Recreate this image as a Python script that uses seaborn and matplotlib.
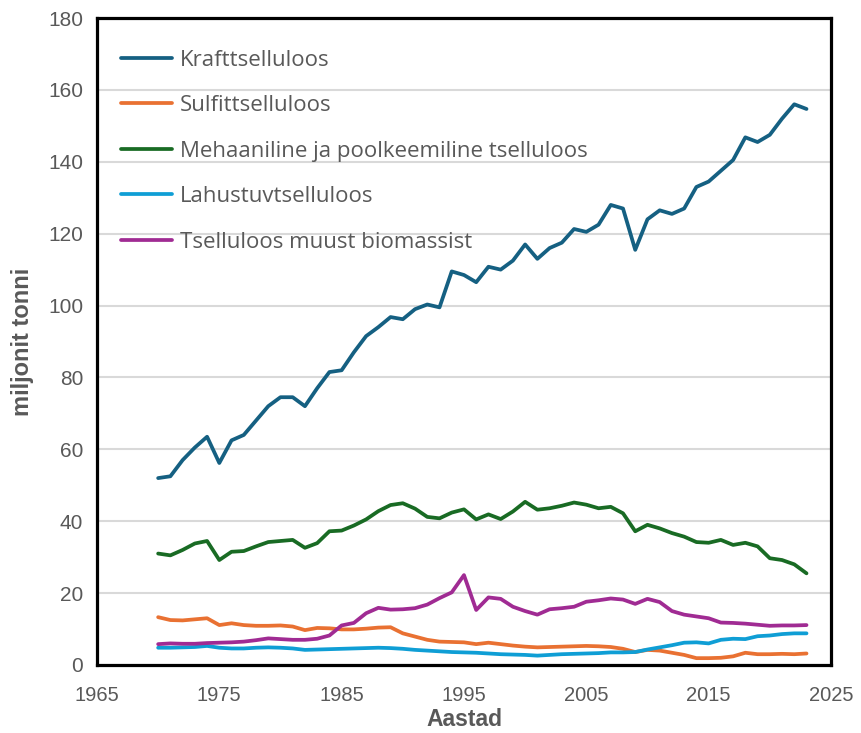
import matplotlib
matplotlib.use("Agg")
import matplotlib.pyplot as plt
import seaborn as sns
import pandas as pd

years = list(range(1970, 2024))

kraft = [52, 52.5, 57, 60.5, 63.5, 56.2, 62.5, 64, 68, 72,
         74.5, 74.5, 72, 77, 81.5, 82, 87, 91.5, 94, 96.8,
         96.2, 99, 100.3, 99.5, 109.5, 108.5, 106.5, 110.8, 110, 112.5,
         117, 113, 116, 117.5, 121.3, 120.5, 122.5, 128, 127, 115.5,
         124, 126.5, 125.5, 127, 133, 134.5, 137.5, 140.5, 146.8, 145.5,
         147.5, 152, 156, 154.7]

sulfit = [13.3, 12.5, 12.4, 12.7, 13, 11.1, 11.6, 11.1, 10.9, 10.9,
          11, 10.7, 9.7, 10.3, 10.2, 9.9, 9.9, 10.1, 10.4, 10.5,
          8.8, 7.9, 7.0, 6.5, 6.4, 6.3, 5.8, 6.2, 5.8, 5.4,
          5.1, 4.9, 5.0, 5.1, 5.2, 5.3, 5.2, 5.0, 4.5, 3.6,
          4.2, 4.0, 3.4, 2.8, 1.9, 1.9, 2.0, 2.4, 3.4, 3.0,
          3.0, 3.1, 3.0, 3.2]

mehaaniline = [31, 30.5, 32, 33.8, 34.5, 29.2, 31.5, 31.7, 33, 34.2,
               34.5, 34.8, 32.6, 33.9, 37.2, 37.4, 38.8, 40.5, 42.8, 44.5,
               45, 43.5, 41.2, 40.8, 42.4, 43.3, 40.5, 41.9, 40.6, 42.7,
               45.4, 43.2, 43.6, 44.3, 45.2, 44.6, 43.6, 44, 42.2, 37.2,
               39, 38, 36.7, 35.7, 34.2, 34, 34.8, 33.4, 34, 33,
               29.7, 29.2, 28, 25.5]

lahustuv = [4.8, 4.8, 4.9, 5.0, 5.3, 4.8, 4.6, 4.6, 4.8, 4.9,
            4.8, 4.6, 4.2, 4.3, 4.4, 4.5, 4.6, 4.7, 4.8, 4.7,
            4.5, 4.2, 4.0, 3.8, 3.6, 3.5, 3.4, 3.2, 3.0, 2.9,
            2.8, 2.6, 2.8, 3.0, 3.1, 3.2, 3.3, 3.5, 3.5, 3.6,
            4.3, 4.9, 5.5, 6.2, 6.3, 6.0, 7.0, 7.3, 7.2, 8.0,
            8.2, 8.6, 8.8, 8.8]

muust = [5.8, 6, 5.9, 5.9, 6.1, 6.2, 6.3, 6.5, 6.9, 7.4,
         7.2, 7.0, 7.0, 7.3, 8.2, 11.0, 11.7, 14.4, 15.9, 15.4,
         15.5, 15.8, 16.8, 18.6, 20.2, 25, 15.3, 18.8, 18.4, 16.2,
         15, 14, 15.5, 15.8, 16.2, 17.6, 18, 18.5, 18.2, 17,
         18.4, 17.5, 15, 14, 13.5, 13, 11.8, 11.7, 11.5, 11.2,
         10.9, 11, 11, 11.1]

series_names = ["Krafttselluloos", "Sulfittselluloos",
                "Mehaaniline ja poolkeemiline tselluloos",
                "Lahustuvtselluloos", "Tselluloos muust biomassist"]
colors = ["#156082", "#E97132", "#196B24", "#0F9ED5", "#A02B93"]

x_ticks = [1965, 1975, 1985, 1995, 2005, 2015, 2025]
y_ticks = [0, 20, 40, 60, 80, 100, 120, 140, 160, 180]

df = pd.DataFrame({"year": years,
                   series_names[0]: kraft,
                   series_names[1]: sulfit,
                   series_names[2]: mehaaniline,
                   series_names[3]: lahustuv,
                   series_names[4]: muust})
long = df.melt(id_vars="year", var_name="series", value_name="value")

sns.set_theme(style="white")
plt.rcParams["font.family"] = ["Liberation Sans", "DejaVu Sans"]

fig = plt.figure(figsize=(8.62, 7.33), dpi=100)
ax = fig.add_axes([0.1125, 0.0928, 0.8515, 0.8826])

ax.yaxis.grid(True, color="#d9d9d9", linewidth=1.5)
ax.set_axisbelow(True)

sns.lineplot(data=long, x="year", y="value", hue="series",
             hue_order=series_names, palette=colors, linewidth=2.7,
             ax=ax, solid_capstyle="round", solid_joinstyle="round")

ax.set_xlim(1965, 2025)
ax.set_ylim(0, 180)
ax.set_xticks(x_ticks)
ax.set_yticks(y_ticks)
ax.tick_params(axis="y", length=0, colors="#595959", labelsize=15, pad=10)
ax.tick_params(axis="x", length=0, colors="#595959", labelsize=14.5, pad=15)

for s in ax.spines.values():
    s.set_visible(True)
    s.set_color("black")
    s.set_linewidth(2.3)

ax.set_xlabel("Aastad", fontsize=16.5, fontweight="bold", color="#595959", labelpad=2)
ax.set_ylabel("miljonit tonni", fontsize=17, fontweight="bold", color="#595959", labelpad=10)

leg = ax.legend(loc="upper left", frameon=False,
                prop={"family": ["Open Sans", "DejaVu Sans"], "size": 16},
                handlelength=2.3, handletextpad=0.33, labelspacing=1.1,
                bbox_to_anchor=(0.012, 0.975), borderaxespad=0.3)
for t in leg.get_texts():
    t.set_color("#595959")
for h in leg.get_lines():
    h.set_linewidth(2.7)

fig.savefig("out.png", dpi=100)
